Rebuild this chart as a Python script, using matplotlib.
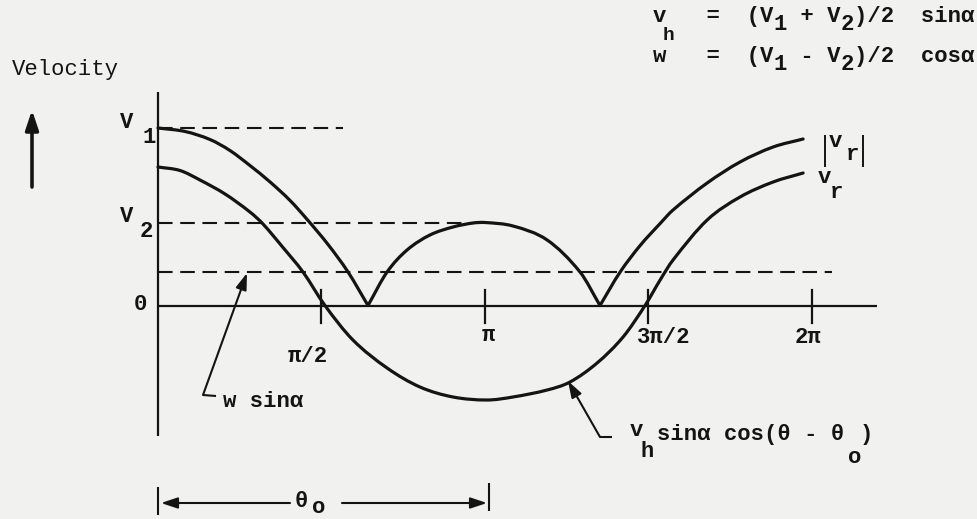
import numpy as np
import matplotlib
matplotlib.use("Agg")
import matplotlib.pyplot as plt
from matplotlib.lines import Line2D
from matplotlib.path import Path
from matplotlib.patches import PathPatch

# ---------------------------------------------------------------
# Curve samples (theta in degrees, velocity in plot units)
# ---------------------------------------------------------------
theta_abs_deg = [0, 14.9, 28.6, 39.6, 50.6, 61.7, 72.7, 82.6, 93.6, 104.6,
                 115.6, 126.1, 137.1, 149.7, 162.4, 173.4, 180.0, 195.4,
                 214.2, 232.3, 243.3, 254.4, 265.4, 276.4, 283.5, 302.3,
                 320.4, 338.6, 355.1]
vr_abs = [177.5, 174, 166, 155, 140, 123.5, 105, 85, 61, 33.5,
          0, 33.5, 55.5, 70.5, 78.5, 82.5, 83, 79.5,
          65.5, 33.5, 0, 33.5, 60, 82, 95.5, 122.5,
          143.5, 158.5, 166.5]
cusp_index = [10, 20]

theta_vr_deg = [0, 12.1, 23.1, 36.9, 50.6, 57.8, 68.8, 79.8, 91.9, 107.3,
                126.1, 144.2, 162.4, 181.1, 195.4, 214.2, 226.8, 241.7,
                256.0, 268.1, 276.4, 283.5, 302.3, 320.4, 338.6, 355.1]
vr = [138.5, 135, 125.5, 111.5, 93.5, 81.5, 58, 33.5, 0, -34.5,
      -62.5, -81.5, -91.5, -94.5, -91.5, -84.5, -76.5, -57.5,
      -31.5, 0, 25.5, 45.5, 85.5, 108.5, 123.5, 132.5]

# reference levels
V1 = 177.5
V2 = 82.5
W_SIN = 33.5

tick_vals = [np.pi / 2, np.pi, 3 * np.pi / 2, 2 * np.pi]
tick_labels = ["π/2", "π", "3π/2", "2π"]

# ---------------------------------------------------------------
W, H = 978, 519
BG = "#f1f1ef"
INK = "#141414"
FONT = "Liberation Mono"
FS = 16

plt.rcParams["lines.scale_dashes"] = False
plt.rcParams["font.family"] = [FONT, "DejaVu Sans"]

fig = plt.figure(figsize=(W / 100, H / 100), dpi=100)
fig.patch.set_facecolor(BG)

# axes spanning the page; origin of the diagram at pixel (158, 305.5)
OX, OY = 158.0, 305.5
PXR = 654.0 / (2 * np.pi)          # pixels per radian
ax = fig.add_axes([0, 0, 1, 1])
ax.set_xlim(-OX / PXR, (W - OX) / PXR)
ax.set_ylim(OY - H, OY)
ax.axis("off")
ax.set_facecolor(BG)


def tx(px):
    return (px - OX) / PXR


def ty(py):
    return OY - py


def ftext(x, y, s, size=FS, weight="bold", **kw):
    """Text placed with its left baseline at pixel (x, y) measured from top."""
    fig.text(x / W, 1 - y / H, s, fontsize=size, color=INK, ha="left",
             va="baseline", family=[FONT, "DejaVu Sans"], weight=weight, **kw)


def fline(xs, ys, lw=1.5):
    fig.add_artist(Line2D([x / W for x in xs], [1 - y / H for y in ys],
                          color=INK, lw=lw, solid_capstyle="butt"))


def farrow(tail, tip, lw=1.5, scale=11):
    ax.annotate("", xy=(tip[0], H - tip[1]), xytext=(tail[0], H - tail[1]),
                xycoords="figure pixels", textcoords="figure pixels",
                arrowprops=dict(arrowstyle="-|>,head_length=0.9,head_width=0.3",
                                mutation_scale=scale, lw=lw, color=INK,
                                shrinkA=0, shrinkB=0))


def smooth_path(xs, ys):
    """Cubic Hermite path through the sample points (x strictly increasing)."""
    xs = np.asarray(xs, float)
    ys = np.asarray(ys, float)
    n = len(xs)
    m = np.empty(n)
    m[1:-1] = (ys[2:] - ys[:-2]) / (xs[2:] - xs[:-2])
    m[0] = (ys[1] - ys[0]) / (xs[1] - xs[0])
    m[-1] = (ys[-1] - ys[-2]) / (xs[-1] - xs[-2])
    verts = [(xs[0], ys[0])]
    codes = [Path.MOVETO]
    for i in range(n - 1):
        h = xs[i + 1] - xs[i]
        verts += [(xs[i] + h / 3, ys[i] + m[i] * h / 3),
                  (xs[i + 1] - h / 3, ys[i + 1] - m[i + 1] * h / 3),
                  (xs[i + 1], ys[i + 1])]
        codes += [Path.CURVE4] * 3
    return Path(verts, codes)


def draw_curve(xs, ys, lw=2.3):
    ax.add_patch(PathPatch(smooth_path(xs, ys), fill=False, edgecolor=INK,
                           lw=lw, capstyle="round", joinstyle="round"))


# axes lines
ax.plot([0, 0], [ty(436), ty(92)], color=INK, lw=1.6, solid_capstyle="butt")
ax.plot([0, tx(877)], [0, 0], color=INK, lw=1.6, solid_capstyle="butt")
for t in tick_vals:
    ax.plot([t, t], [-17, 16], color=INK, lw=1.6)

# dashed reference levels
dash = dict(color=INK, lw=1.5, linestyle=(0, (10.5, 5.5)))
ax.plot([0, tx(343)], [V1, V1], **dash)
ax.plot([0, tx(487)], [V2, V2], **dash)
ax.plot([0, tx(832)], [W_SIN, W_SIN], **dash)

# |v_r| in three arcs split at the cusps, and v_r
th_abs = np.deg2rad(theta_abs_deg)
bounds = [0] + cusp_index + [len(vr_abs) - 1]
for a, b in zip(bounds[:-1], bounds[1:]):
    draw_curve(th_abs[a:b + 1], vr_abs[a:b + 1])
draw_curve(np.deg2rad(theta_vr_deg), vr)

# tick labels
tick_pos = [(288, 362), (482, 341), (637, 343), (795, 343)]
for (x, y), lab in zip(tick_pos, tick_labels):
    ftext(x, y, lab)

# vertical axis labels
ftext(12, 75, "Velocity", weight="normal")
ftext(120, 128, "V")
ftext(142, 143, "1")
ftext(120, 222, "V")
ftext(140, 237, "2")
ftext(134, 310, "0")
farrow((32, 187), (32, 110), lw=2.6, scale=13)

# curve labels
fline([825, 825], [135, 167], lw=1.4)
ftext(829, 147, "v")
ftext(846, 160, "r")
fline([863, 863], [135, 167], lw=1.4)
ftext(818, 183, "v")
ftext(830, 198, "r")

# w sin(alpha) callout
fline([203, 216], [395, 396], lw=1.5)
farrow((203, 395), (247, 273), lw=1.5)
ftext(223, 407, "w sinα")

# v_h sin(alpha) cos(theta - theta_o) callout
fline([600, 612], [437, 437], lw=1.5)
farrow((600, 437), (568, 381), lw=1.5)
ftext(630, 436, "v")
ftext(640, 457, "h")
ftext(657, 440, "sinα cos(θ - θ")
ftext(848, 463, "o")
ftext(860, 440, ")")

# theta_o span
fline([158, 158], [487, 515], lw=1.5)
fline([489, 489], [483, 511], lw=1.5)
farrow((290, 503), (161, 503), lw=1.5)
farrow((342, 503), (487, 503), lw=1.5)
ftext(295, 507, "θ")
ftext(312, 513, "o")

# formulas (typewriter cells of ~13.4 px)
CELL = 13.4
X0F = 653


def cells(c):
    return X0F + c * CELL


ftext(cells(0), 22, "v   =  (V")
ftext(cells(0.7), 40, "h", size=14)
ftext(cells(9), 30, "1")
ftext(cells(10), 22, " + V")
ftext(cells(14), 30, "2")
ftext(cells(15), 22, ")/2  sinα")

ftext(cells(0), 62, "w   =  (V")
ftext(cells(9), 70, "1")
ftext(cells(10), 62, " - V")
ftext(cells(14), 70, "2")
ftext(cells(15), 62, ")/2  cosα")

fig.savefig("out.png", dpi=100, facecolor=BG)
